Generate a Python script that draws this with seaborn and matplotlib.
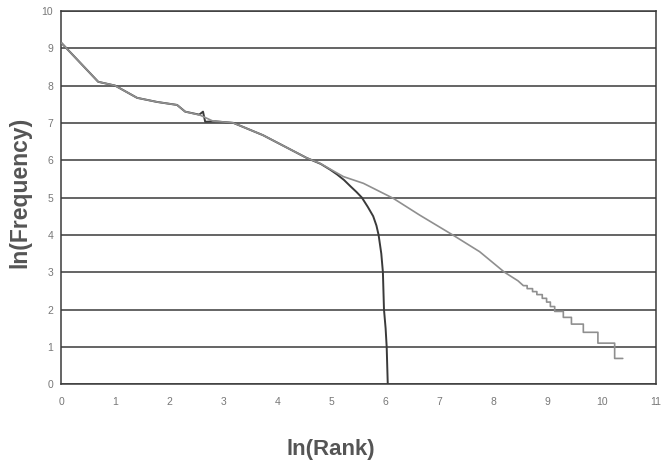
import numpy as np
import pandas as pd
import matplotlib
matplotlib.use("Agg")
import matplotlib.pyplot as plt
import seaborn as sns

# ln(rank) / ln(frequency)
full_x = [0.0, 0.68, 0.99, 1.4, 1.77, 2.14, 2.29, 2.56, 2.8, 3.18, 3.73, 4.54, 4.78,
          5.22, 5.59, 6.14, 6.63, 7.24, 7.74, 8.2, 8.45, 8.55, 8.62, 8.62, 8.72, 8.72,
          8.8, 8.8, 8.9, 8.9, 8.98, 8.98, 9.05, 9.05, 9.13, 9.13, 9.29, 9.29, 9.44,
          9.44, 9.66, 9.66, 9.93, 9.93, 10.24, 10.24, 10.39]
full_y = [9.14, 8.1, 8.0, 7.67, 7.56, 7.48, 7.3, 7.21, 7.05, 7.0, 6.67, 6.06, 5.92,
          5.56, 5.38, 4.98, 4.53, 4.0, 3.55, 3.0, 2.77, 2.64, 2.64, 2.56, 2.56, 2.48,
          2.48, 2.40, 2.40, 2.30, 2.30, 2.20, 2.20, 2.08, 2.08, 1.95, 1.95, 1.79, 1.79,
          1.61, 1.61, 1.39, 1.39, 1.10, 1.10, 0.69, 0.69]

cut_x = [0.0, 0.68, 0.99, 1.4, 1.77, 2.14, 2.29, 2.55, 2.62, 2.66, 2.85, 3.18, 3.73,
         4.54, 4.8, 4.97, 5.1, 5.23, 5.35, 5.46, 5.56, 5.67, 5.77, 5.83, 5.87, 5.92,
         5.95, 5.96, 5.97, 6.0, 6.02, 6.04]
cut_y = [9.14, 8.1, 8.0, 7.67, 7.56, 7.48, 7.3, 7.22, 7.3, 7.03, 7.04, 7.0, 6.67,
         6.06, 5.9, 5.75, 5.62, 5.47, 5.3, 5.15, 5.0, 4.75, 4.5, 4.25, 4.0, 3.5,
         3.0, 2.5, 2.0, 1.5, 1.0, 0.0]

x_ticks = list(range(0, 12))
y_ticks = list(range(0, 11))

sns.set_style("white")
plt.rcParams['font.family'] = ['Liberation Sans', 'DejaVu Sans']

fig = plt.figure(figsize=(6.61, 4.72), dpi=100)
ax = fig.add_axes([0.093, 0.186, 0.899, 0.791])

# horizontal gridlines
for v in y_ticks:
    ax.axhline(v, color='#3a3a3a', lw=1.1, zorder=1)

sns.lineplot(x=cut_x, y=cut_y, sort=False, estimator=None, color='#3a3a3a', lw=1.4, ax=ax, zorder=2)
sns.lineplot(x=full_x, y=full_y, sort=False, estimator=None, color='#8f8f8f', lw=1.2, ax=ax, zorder=3)

ax.set_xlim(0, 11)
ax.set_ylim(0, 10)
ax.set_xticks(x_ticks)
ax.set_yticks(y_ticks)
ax.tick_params(axis='both', labelsize=7.5, labelcolor='#777777', color='#444444',
               length=3, width=1, direction='out')
ax.tick_params(axis='x', pad=6)
ax.tick_params(axis='y', pad=3)
for side in ['left', 'bottom', 'right', 'top']:
    ax.spines[side].set_color('#3a3a3a')
    ax.spines[side].set_linewidth(1.1)
ax.set_xlabel('')
ax.set_ylabel('')

fig.text(0.5, 0.047, 'ln(Rank)', ha='center', va='center', fontsize=16,
         fontweight='bold', color='#555555')
fig.text(0.03, 0.593, 'ln(Frequency)', ha='center', va='center', rotation=90,
         fontsize=16.5, fontweight='bold', color='#555555')

fig.savefig('out.png', dpi=100)
